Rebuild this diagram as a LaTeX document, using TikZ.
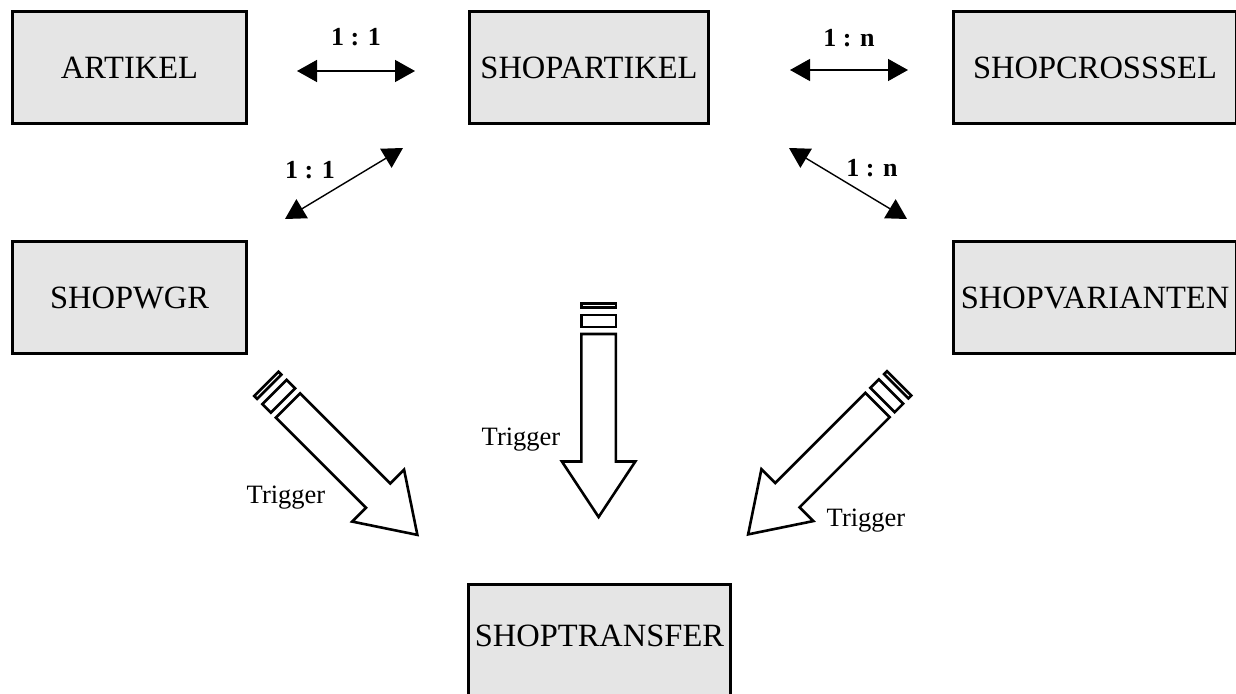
\documentclass[tikz,border=0pt]{standalone}
\usepackage{fontspec}
\setmainfont{Liberation Serif}
\usetikzlibrary{arrows.meta}

\tikzset{
	entity/.style={draw, line width=2.6pt, fill=black!10, minimum height=112.4pt,
		inner sep=0pt, font=\fontsize{32.5}{38}\selectfont},
	rel/.style={{Triangle[length=20pt,width=22pt]}-{Triangle[length=20pt,width=22pt]}, line width=1.4pt},
	card/.style={anchor=base, font=\fontsize{26}{30}\selectfont\bfseries},
	trig/.style={anchor=base, font=\fontsize{26.5}{30}\selectfont},
	pics/trigger/.style={code={
		\draw[line width=2.6pt] (0,-17.2) rectangle (4,17.2);
		\draw[line width=2.6pt] (11.5,-17.2) rectangle (23.5,17.2);
		\draw[line width=2.6pt] (30.5,-17.2) -- (158,-17.2) -- (158,-36.7) -- (213.5,0)
			-- (158,36.7) -- (158,17.2) -- (30.5,17.2) -- cycle;
	}}
}

\begin{document}
\begin{tikzpicture}[x=1pt,y=-1pt]
			\useasboundingbox (0,0) rectangle (1236,693);
			\clip (0,0) rectangle (1236,693);
			\fill[white] (0,0) rectangle (1236,693);
			
			% tables
			\node[entity, minimum width=234.4pt] (artikel) at (129.5,67.5) {ARTIKEL};
			\node[entity, minimum width=239.4pt] (shopartikel) at (589,67.5) {SHOPARTIKEL};
			\node[entity, minimum width=283.4pt] (crosssel) at (1095,67.5) {SHOPCROSSSEL};
			\node[entity, minimum width=234.4pt] (wgr) at (129.5,297.5) {SHOPWGR};
			\node[entity, minimum width=283.4pt] (varianten) at (1095,297.5) {SHOPVARIANTEN};
			\node[entity, minimum width=262.4pt, text depth=9pt] (transfer) at (599.5,640.5) {SHOPTRANSFER};
			
			% relations
			\coordinate (r1a) at (297,71);  \coordinate (r1b) at (415,71);
			\coordinate (r2a) at (403,148); \coordinate (r2b) at (285,219);
			\coordinate (r3a) at (790,70);  \coordinate (r3b) at (908,70);
			\coordinate (r4a) at (789,148); \coordinate (r4b) at (907,219);
			\draw[rel] (r1a) -- (r1b);
			\draw[rel] (r2a) -- (r2b);
			\draw[rel] (r3a) -- (r3b);
			\draw[rel] (r4a) -- (r4b);
			\node[card] (c1) at (356,46) {1 : 1};
			\node[card] (c2) at (310,178) {1 : 1};
			\node[card] (c3) at (849,47) {1 : n};
			\node[card] (c4) at (872,176) {1 : n};
			
			% triggers into SHOPTRANSFER
			\pic[rotate=-45] (tl) at (266.4,383.9) {trigger};
			\pic[rotate=-90] (tm) at (598.6,303.5) {trigger};
			\pic[rotate=-135] (tr) at (899.1,383.4) {trigger};
			\node[trig] (tgl) at (286,503) {Trigger};
			\node[trig] (tgm) at (521,445) {Trigger};
			\node[trig] (tgr) at (866,526) {Trigger};
		\end{tikzpicture}
\end{document}
